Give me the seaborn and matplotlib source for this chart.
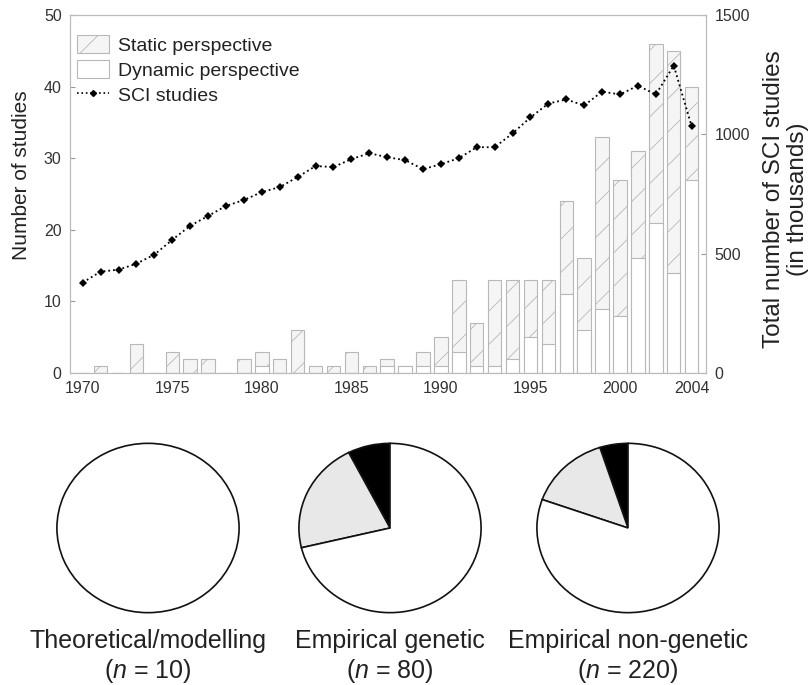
import numpy as np
import pandas as pd
import matplotlib
matplotlib.use("Agg")
import matplotlib.pyplot as plt
from matplotlib.patches import Patch
from matplotlib.lines import Line2D
import seaborn as sns

# --- data ---
years = list(range(1970, 2005))
total_studies = [0, 1, 0, 4, 0, 3, 2, 2, 0, 2,
                 3, 2, 6, 1, 1, 3, 1, 2, 1, 3,
                 5, 13, 7, 13, 13, 13, 13, 24, 16, 33,
                 27, 31, 46, 45, 40]
dynamic_studies = [0, 0, 0, 0, 0, 0, 0, 0, 0, 0,
                   1, 0, 0, 0, 0, 0, 0, 1, 1, 1,
                   1, 3, 1, 1, 2, 5, 4, 11, 6, 9,
                   8, 16, 21, 14, 27]
sci_studies = [379, 425, 433, 458, 496, 558, 617, 658, 700, 725,
               758, 779, 821, 867, 863, 896, 921, 904, 892, 854,
               875, 900, 946, 946, 1004, 1071, 1129, 1146, 1121, 1179,
               1167, 1204, 1167, 1288, 1033]
year_ticks = [1970, 1975, 1980, 1985, 1990, 1995, 2000, 2004]

pie_titles = ["Theoretical/modelling", "Empirical genetic", "Empirical non-genetic"]
pie_n = [10, 80, 220]
pie_black = [0, 6, 11]
pie_grey = [0, 17, 32]
pie_white = [10, 57, 177]

sns.set_style("white")
plt.rcParams["font.family"] = ["Liberation Sans", "DejaVu Sans"]
plt.rcParams["mathtext.fontset"] = "custom"
plt.rcParams["mathtext.rm"] = "Liberation Sans"
plt.rcParams["mathtext.it"] = "Liberation Sans:italic"
plt.rcParams["hatch.color"] = "#e6e6e6"
plt.rcParams["hatch.linewidth"] = 0.6

text_col = "#222222"
spine_col = "#bbbbbb"
static_fc = "#f5f5f5"
bar_ec = "#b8b8b8"

fig = plt.figure(figsize=(8.09, 6.85), dpi=100)
ax = fig.add_axes([70 / 809, 1 - 373 / 685, 636 / 809, 358 / 685])

df = pd.DataFrame({"year": years, "total": total_studies,
                   "dynamic": dynamic_studies, "sci": sci_studies})

sns.barplot(data=df, x="year", y="total", native_scale=True, width=0.75,
            color=static_fc, saturation=1, edgecolor=bar_ec, linewidth=0.8,
            errorbar=None, ax=ax)
for p in ax.patches:
    p.set_hatch("/")
sns.barplot(data=df, x="year", y="dynamic", native_scale=True, width=0.75,
            color="white", saturation=1, edgecolor=bar_ec, linewidth=0.8,
            errorbar=None, ax=ax)

ax.set_xlim(1969.29, 2004.8)
ax.set_ylim(0, 50)
ax.set_yticks(range(0, 51, 10))
ax.set_xticks(year_ticks)
ax.set_xlabel("")
ax.set_ylabel("Number of studies", fontsize=15, color=text_col)
ax.yaxis.set_label_coords(-0.062, 0.553)

ax2 = ax.twinx()
sns.lineplot(data=df, x="year", y="sci", color="black", marker="D",
             markersize=4, markeredgewidth=0, linestyle=":", linewidth=1.3,
             ax=ax2)
ax2.set_ylim(0, 1500)
ax2.set_yticks([0, 500, 1000, 1500])
ax2.set_xlim(1969.29, 2004.8)
ax2.set_ylabel("")
fig.text(786 / 809, 1 - 199 / 685, "Total number of SCI studies\n(in thousands)",
         rotation=90, ha="center", va="center", fontsize=17.5,
         color=text_col, multialignment="center", linespacing=1.1)

for a in (ax, ax2):
    for s in a.spines.values():
        s.set_color(spine_col)
        s.set_linewidth(0.8)
    a.tick_params(direction="in", length=3.5, width=0.8, color="#999999",
                  labelsize=11.5, labelcolor="#333333", pad=6)

handles = [
    Patch(facecolor=static_fc, edgecolor=bar_ec, hatch="/", linewidth=0.8),
    Patch(facecolor="white", edgecolor=bar_ec, linewidth=0.8),
    Line2D([], [], color="black", linestyle=":", marker="D", markersize=3,
           linewidth=1.2),
]
ax2.legend(handles, ["Static perspective", "Dynamic perspective", "SCI studies"],
           loc="upper left", bbox_to_anchor=(0.011, 0.944), frameon=False,
           fontsize=14, handlelength=1.65, handleheight=1.05,
           handletextpad=0.45, labelspacing=0.28, borderpad=0,
           borderaxespad=0, labelcolor=text_col)

# --- pies ---
pie_cx = [148, 390, 628]
pie_w, pie_h = 184, 171
pie_cy = 528
for i, title in enumerate(pie_titles):
    pax = fig.add_axes([(pie_cx[i] - pie_w / 2) / 809,
                        1 - (pie_cy + pie_h / 2) / 685,
                        pie_w / 809, pie_h / 685])
    vals = [pie_black[i], pie_grey[i], pie_white[i]]
    cols = ["black", "#e8e8e8", "white"]
    keep = [(v, c) for v, c in zip(vals, cols) if v > 0]
    pax.pie([v for v, _ in keep], colors=[c for _, c in keep],
            startangle=90, counterclock=True,
            wedgeprops=dict(edgecolor="#111111", linewidth=1.2))
    pax.set_aspect("auto")
    pax.set_xlim(-1.01, 1.01)
    pax.set_ylim(-1.01, 1.01)
    pax.axis("off")
    fig.text(pie_cx[i] / 809, 1 - 657 / 685,
             f"{title}\n($\\mathit{{n}}$ = {pie_n[i]})",
             ha="center", va="center", fontsize=18, color=text_col,
             multialignment="center", linespacing=1.15)

fig.savefig("out.png", dpi=100)
